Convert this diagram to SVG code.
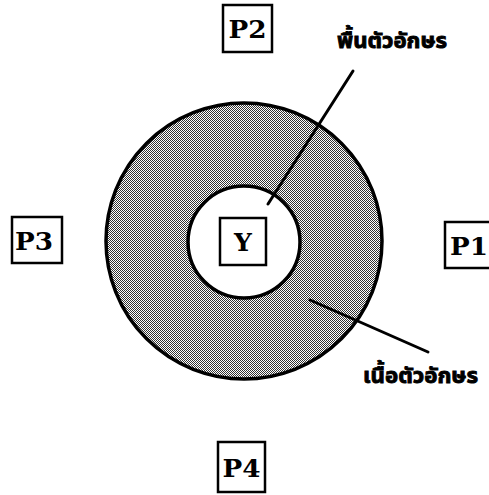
<svg xmlns="http://www.w3.org/2000/svg" width="489" height="495" viewBox="0 0 489 495">
<defs>
<pattern id="dots" width="2" height="2" patternUnits="userSpaceOnUse">
<rect width="2" height="2" fill="#ffffff"/>
<rect x="0" y="0" width="1" height="1" fill="#333"/>
<rect x="1" y="1" width="1" height="1" fill="#333"/>
</pattern>
</defs>
<style>
.box{fill:#fff;stroke:#000;stroke-width:2.5}
.pl{font-family:"DejaVu Serif","Liberation Serif",serif;font-weight:bold;font-size:25px;fill:#000;text-anchor:middle}
.th{font-family:"Noto Sans Thai","Tahoma","DejaVu Sans",sans-serif;font-weight:bold;font-size:22px;fill:#000;stroke:#000;stroke-width:0.9}
.ln{stroke:#000;stroke-width:3;fill:none;stroke-linecap:round}
</style>
<rect width="489" height="495" fill="#fff"/>
<g id="ring">
<circle cx="244" cy="241" r="138" fill="url(#dots)" stroke="#000" stroke-width="3.5"/>
<circle cx="244" cy="242" r="56" fill="#fff" stroke="#000" stroke-width="3.5"/>
</g>
<g id="Y">
<rect class="box" x="220" y="218" width="46" height="47"/>
<text class="pl" x="243" y="251">Y</text>
</g>
<g id="P2">
<rect class="box" x="223" y="5" width="49" height="47"/>
<text class="pl" x="247.5" y="38" textLength="38" lengthAdjust="spacingAndGlyphs">P2</text>
</g>
<g id="P3">
<rect class="box" x="12" y="217" width="50" height="46"/>
<text class="pl" x="34" y="250" textLength="38" lengthAdjust="spacingAndGlyphs">P3</text>
</g>
<g id="P1">
<rect class="box" x="445" y="222" width="50" height="46"/>
<text class="pl" x="469" y="255" textLength="38" lengthAdjust="spacingAndGlyphs">P1</text>
</g>
<g id="P4">
<rect class="box" x="218" y="442" width="47" height="50"/>
<text class="pl" x="241.5" y="477" textLength="38" lengthAdjust="spacingAndGlyphs">P4</text>
</g>
<g id="connectors">
<line class="ln" x1="353" y1="71" x2="268" y2="204"/>
<line class="ln" x1="310" y1="300" x2="428" y2="352"/>
</g>
<g id="labels">
<text class="th" x="337" y="48" textLength="110" lengthAdjust="spacingAndGlyphs">พื้นตัวอักษร</text>
<text class="th" x="363" y="383" textLength="115" lengthAdjust="spacingAndGlyphs">เนื้อตัวอักษร</text>
</g>
</svg>
